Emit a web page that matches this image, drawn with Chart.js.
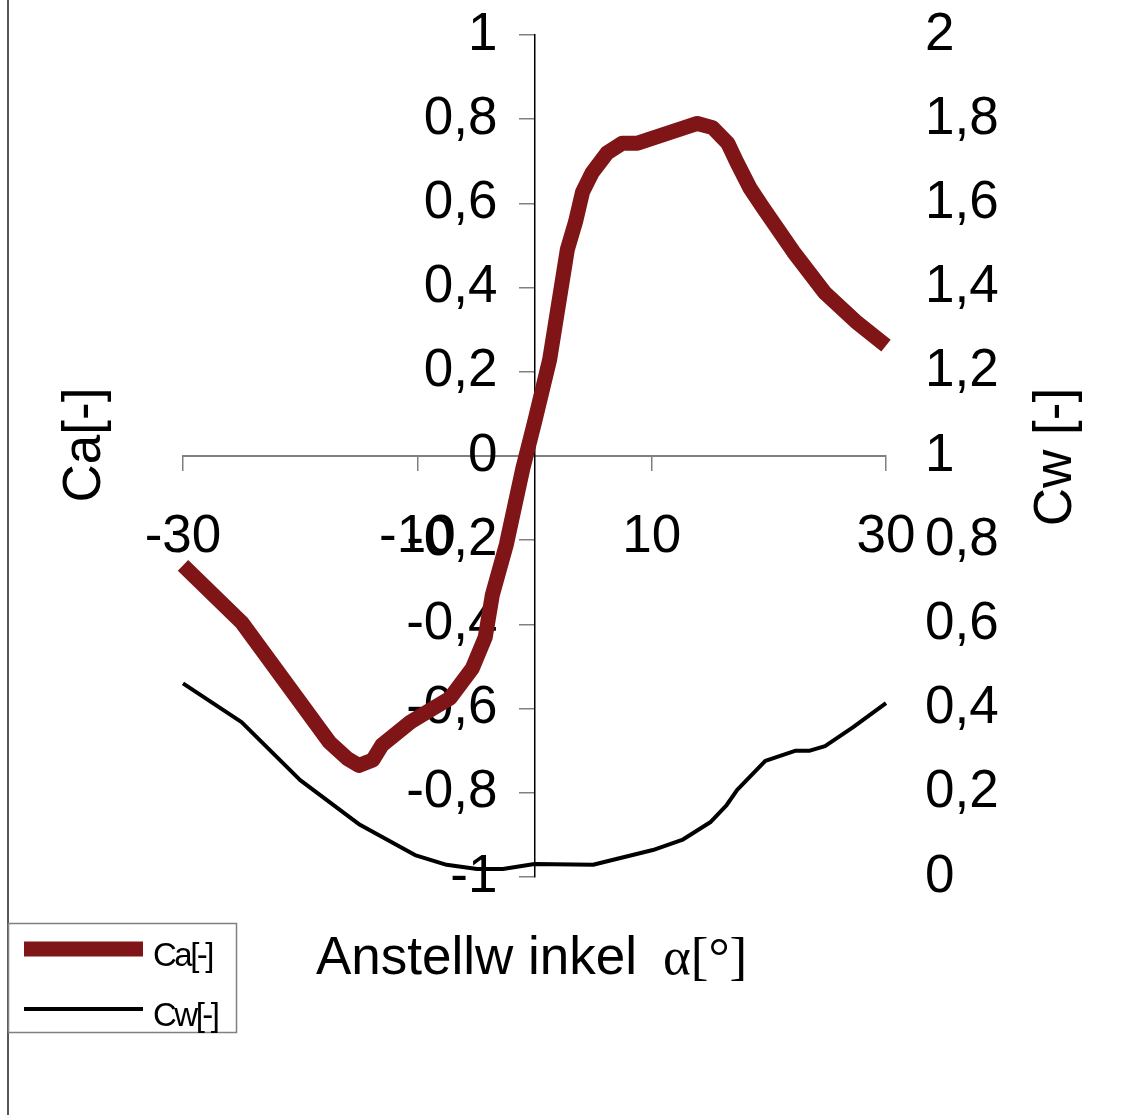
<!DOCTYPE html>
<html>
<head>
<meta charset="utf-8">
<script src="https://cdn.jsdelivr.net/npm/chart.js@4.4.1/dist/chart.umd.min.js"></script>
<style>
  body { margin: 0; background: #fff; }
  canvas { display: block; }
</style>
</head>
<body>
<canvas id="profil" width="1137" height="1115"></canvas>
<script>
// Anstellwinkel alpha [deg] and coefficients
const alphaCa = [-30, -25, -17.5, -16, -15, -13.8, -13, -10.6, -8.7, -7.2, -5.3, -4.2, -3.6, -2.4, -1, 0, 1.3, 2.8, 3.5, 4.1, 4.9, 6.2, 7.5, 8.8, 13.9, 15.2, 16.5, 17.3, 18.4, 19.5, 22.1, 24.8, 27.4, 30];
const caValues = [-0.26, -0.395, -0.68, -0.718, -0.735, -0.722, -0.686, -0.632, -0.6, -0.575, -0.504, -0.43, -0.33, -0.21, -0.03, 0.08, 0.23, 0.49, 0.556, 0.627, 0.672, 0.72, 0.743, 0.743, 0.79, 0.78, 0.743, 0.696, 0.636, 0.59, 0.485, 0.387, 0.32, 0.262];

const alphaCw = [-30, -25, -20, -14.9, -10.2, -7.5, -4.9, -2.7, 0, 5, 10.1, 12.6, 15, 16.4, 17.3, 19.7, 22.3, 23.5, 24.8, 27.2, 30];
const cwValues = [0.46, 0.368, 0.23, 0.124, 0.052, 0.029, 0.019, 0.019, 0.031, 0.029, 0.064, 0.088, 0.13, 0.171, 0.207, 0.276, 0.30, 0.30, 0.311, 0.356, 0.413];

const seriesNames = ['Ca[-]', 'Cw[-]'];
const xTitle = 'Anstellw inkel';
const xTitleSymbol = '\u03B1[\u00B0]';
const caTitle = 'Ca[-]';
const cwTitle = 'Cw [-]';

const komma = v => String(Math.round(v * 10) / 10).replace('.', ',');
const toPoints = (xs, ys) => xs.map((x, i) => ({ x: x, y: ys[i] }));
// keep the label overhang from pushing the plot area down
const noOverhang = scale => { scale.paddingTop = 0; scale.paddingBottom = 0; };

Chart.defaults.color = '#000';
Chart.defaults.font.family = 'Liberation Sans, Arial, sans-serif';

// y labels sit left of the centred axis, like in the original
const shiftYLabels = {
  id: 'shiftYLabels',
  beforeDraw(chart) {
    const s = chart.scales.y;
    const x0 = chart.scales.x.getPixelForValue(0);
    s.getLabelItems().forEach(it => {
      it.options.translation[0] = x0 - 37;
      it.options.textAlign = 'right';
    });
  }
};

const extras = {
  id: 'extras',
  afterDraw(chart) {
    const ctx = chart.ctx;
    ctx.save();
    // left frame line
    ctx.strokeStyle = '#555';
    ctx.lineWidth = 2;
    ctx.beginPath();
    ctx.moveTo(8, 0);
    ctx.lineTo(8, 1115);
    ctx.stroke();

    // axis titles
    ctx.fillStyle = '#000';
    ctx.font = '53px Liberation Sans';
    ctx.textAlign = 'left';
    ctx.textBaseline = 'alphabetic';
    ctx.fillText(xTitle, 316, 974);
    ctx.font = '53px Liberation Serif';
    ctx.fillText(xTitleSymbol, 663, 974);

    ctx.font = '53px Liberation Sans';
    ctx.textAlign = 'center';
    ctx.save();
    ctx.translate(100, 445);
    ctx.rotate(-Math.PI / 2);
    ctx.fillText(caTitle, 0, 0);
    ctx.restore();
    ctx.save();
    ctx.translate(1071, 457);
    ctx.rotate(-Math.PI / 2);
    ctx.fillText(cwTitle, 0, 0);
    ctx.restore();

    // legend box
    ctx.strokeStyle = '#808080';
    ctx.lineWidth = 1.5;
    ctx.strokeRect(8.5, 923.5, 228, 109);
    const rows = [949, 1009];
    chart.data.datasets.forEach((ds, i) => {
      ctx.strokeStyle = ds.borderColor;
      ctx.lineWidth = ds.borderWidth;
      ctx.lineCap = 'butt';
      ctx.beginPath();
      ctx.moveTo(24, rows[i]);
      ctx.lineTo(143, rows[i]);
      ctx.stroke();
      ctx.fillStyle = '#000';
      ctx.font = '33px Liberation Sans';
      ctx.textAlign = 'left';
      ctx.textBaseline = 'middle';
      ctx.letterSpacing = '-2.5px';
      ctx.fillText(ds.label, 153, rows[i] + 8);
      ctx.letterSpacing = '0px';
    });
    ctx.restore();
  }
};

new Chart(document.getElementById('profil'), {
  type: 'scatter',
  data: {
    datasets: [{
      label: seriesNames[0],
      data: toPoints(alphaCa, caValues),
      showLine: true,
      borderColor: '#801517',
      borderWidth: 15,
      pointRadius: 0,
      borderJoinStyle: 'round',
      clip: false,
      yAxisID: 'y'
    }, {
      label: seriesNames[1],
      data: toPoints(alphaCw, cwValues),
      showLine: true,
      borderColor: '#000',
      borderWidth: 4,
      pointRadius: 0,
      borderJoinStyle: 'round',
      clip: false,
      yAxisID: 'y2'
    }]
  },
  options: {
    responsive: false,
    animation: false,
    layout: { padding: { left: 183, top: 35, bottom: 238, right: 51 } },
    plugins: { legend: { display: false }, tooltip: { enabled: false } },
    scales: {
      x: {
        type: 'linear',
        position: { y: 0 },
        min: -30, max: 30,
        ticks: { stepSize: 20, padding: 36, font: { size: 53 }, maxRotation: 0, callback: komma },
        grid: { drawOnChartArea: false, drawTicks: true, tickLength: 14, color: '#808080', lineWidth: 1.5 },
        border: { display: true, color: '#808080', width: 2 }
      },
      y: {
        type: 'linear',
        position: { x: 0 },
        min: -1, max: 1,
        ticks: { stepSize: 0.2, font: { size: 53 }, callback: komma },
        grid: { drawOnChartArea: false, drawTicks: true, tickLength: 15, color: '#808080', lineWidth: 1.5 },
        border: { display: true, color: '#000', width: 1.5 },
        afterFit: noOverhang
      },
      y2: {
        type: 'linear',
        position: 'right',
        min: 0, max: 2,
        ticks: { stepSize: 0.2, padding: 39, font: { size: 53 }, callback: komma },
        grid: { display: false, drawTicks: false },
        border: { display: false },
        afterFit(scale) { scale.width = 200; noOverhang(scale); }
      }
    }
  },
  plugins: [shiftYLabels, extras]
});
</script>
</body>
</html>
